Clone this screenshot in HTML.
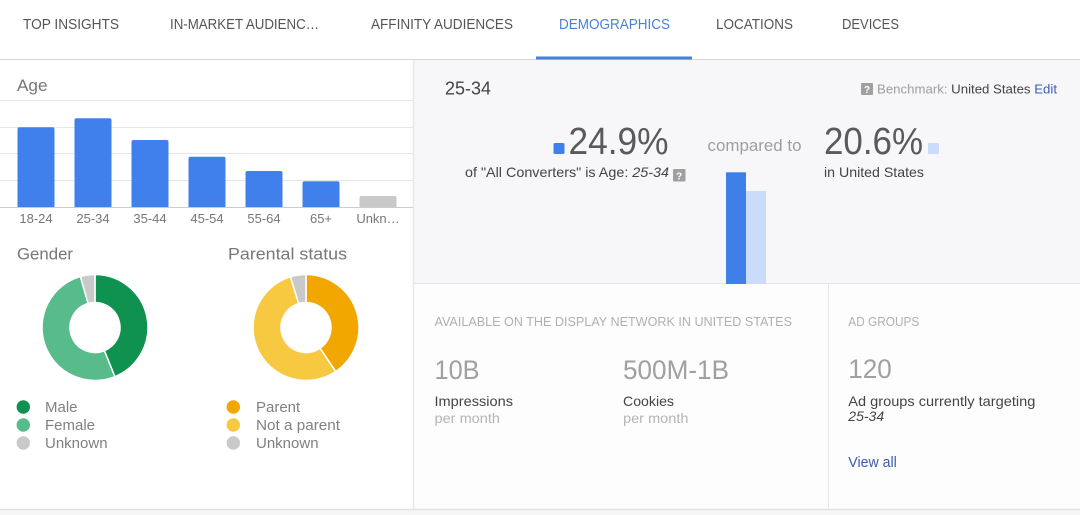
<!DOCTYPE html>
<html>
<head>
<meta charset="utf-8">
<style>
  html,body{margin:0;padding:0;background:#ffffff;}
  body{width:1080px;height:515px;overflow:hidden;}
  svg{display:block;}
  text{font-family:"Liberation Sans", Arial, sans-serif;}
</style>
</head>
<body>
<svg width="1080" height="515" viewBox="0 0 1080 515" xmlns="http://www.w3.org/2000/svg">
  <!-- backgrounds -->
  <rect x="0" y="0" width="1080" height="515" fill="#ffffff"/>
  <rect x="414" y="60" width="666" height="223" fill="#f7f7f9"/>
  <rect x="414" y="284" width="666" height="225" fill="#fdfdfd"/>
  <rect x="0" y="510" width="1080" height="5" fill="#f6f6f6"/>
  <line x1="0" y1="509.5" x2="1080" y2="509.5" stroke="#e2e2e2" stroke-width="1.5"/>
  <line x1="413.5" y1="60" x2="413.5" y2="509" stroke="#e8e8ea" stroke-width="1.5"/>
  <line x1="414" y1="283.5" x2="1080" y2="283.5" stroke="#e6e6ea" stroke-width="1"/>
  <line x1="828.5" y1="284" x2="828.5" y2="509" stroke="#e8e8ea" stroke-width="1"/>

  <!-- nav -->
  <line x1="0" y1="59.5" x2="1080" y2="59.5" stroke="#d8d8d8" stroke-width="1"/>
  <rect x="536" y="56.5" width="156" height="3" fill="#4a7fd7"/>
  <g font-size="14.5" fill="#555555">
    <text x="23" y="29" textLength="96" lengthAdjust="spacingAndGlyphs">TOP INSIGHTS</text>
    <text x="170" y="29" textLength="149" lengthAdjust="spacingAndGlyphs">IN-MARKET AUDIENC…</text>
    <text x="371" y="29" textLength="142" lengthAdjust="spacingAndGlyphs">AFFINITY AUDIENCES</text>
    <text x="559" y="29" textLength="111" lengthAdjust="spacingAndGlyphs" fill="#4a80d9">DEMOGRAPHICS</text>
    <text x="716" y="29" textLength="77" lengthAdjust="spacingAndGlyphs">LOCATIONS</text>
    <text x="842" y="29" textLength="57" lengthAdjust="spacingAndGlyphs">DEVICES</text>
  </g>

  <!-- Age chart -->
  <text x="17" y="91" font-size="17" fill="#777777" textLength="30.5" lengthAdjust="spacingAndGlyphs">Age</text>
  <g stroke="#e6e6e6" stroke-width="1">
    <line x1="0" y1="100.5" x2="413" y2="100.5"/>
    <line x1="0" y1="127.5" x2="413" y2="127.5"/>
    <line x1="0" y1="153.5" x2="413" y2="153.5"/>
    <line x1="0" y1="180.5" x2="413" y2="180.5"/>
  </g>
  <g fill="#4080ec">
    <path d="M17.5 207 V129.3 Q17.5 127.3 19.5 127.3 H52.5 Q54.5 127.3 54.5 129.3 V207 Z"/>
    <path d="M74.5 207 V120.3 Q74.5 118.3 76.5 118.3 H109.5 Q111.5 118.3 111.5 120.3 V207 Z"/>
    <path d="M131.5 207 V142 Q131.5 140 133.5 140 H166.5 Q168.5 140 168.5 142 V207 Z"/>
    <path d="M188.5 207 V158.7 Q188.5 156.7 190.5 156.7 H223.5 Q225.5 156.7 225.5 158.7 V207 Z"/>
    <path d="M245.5 207 V173 Q245.5 171 247.5 171 H280.5 Q282.5 171 282.5 173 V207 Z"/>
    <path d="M302.5 207 V183.3 Q302.5 181.3 304.5 181.3 H337.5 Q339.5 181.3 339.5 183.3 V207 Z"/>
  </g>
  <path d="M359.5 207 V198 Q359.5 196 361.5 196 H394.5 Q396.5 196 396.5 198 V207 Z" fill="#c9c9c9"/>
  <line x1="0" y1="207.5" x2="413" y2="207.5" stroke="#cccccc" stroke-width="1"/>
  <g font-size="13" fill="#777777" text-anchor="middle">
    <text x="36" y="223">18-24</text>
    <text x="93" y="223">25-34</text>
    <text x="150" y="223">35-44</text>
    <text x="207" y="223">45-54</text>
    <text x="264" y="223">55-64</text>
    <text x="321" y="223">65+</text>
    <text x="378" y="223">Unkn…</text>
  </g>

  <!-- Gender -->
  <text x="17" y="259.3" font-size="17" fill="#777777" textLength="56" lengthAdjust="spacingAndGlyphs">Gender</text>
  <g stroke="#ffffff" stroke-width="1.5" stroke-linejoin="round">
    <path d="M95 274.5 A53 53 0 0 1 114.85 376.64 L104.37 350.68 A25 25 0 0 0 95 302.5 Z" fill="#0f9150"/>
    <path d="M114.85 376.64 A53 53 0 1 1 80.39 276.55 L88.11 303.47 A25 25 0 1 0 104.37 350.68 Z" fill="#57bb8a"/>
    <path d="M80.39 276.55 A53 53 0 0 1 95 274.5 L95 302.5 A25 25 0 0 0 88.11 303.47 Z" fill="#c9c9c9"/>
  </g>
  <circle cx="23.3" cy="407" r="6.7" fill="#0f9150"/>
  <circle cx="23.3" cy="425" r="6.7" fill="#57bb8a"/>
  <circle cx="23.3" cy="443" r="6.7" fill="#c9c9c9"/>
  <g font-size="15" fill="#808080">
    <text x="45" y="412">Male</text>
    <text x="45" y="430">Female</text>
    <text x="45" y="448">Unknown</text>
  </g>

  <!-- Parental status -->
  <text x="228" y="259.3" font-size="17" fill="#777777" textLength="119" lengthAdjust="spacingAndGlyphs">Parental status</text>
  <g stroke="#ffffff" stroke-width="1.5" stroke-linejoin="round">
    <path d="M306 274.5 A53 53 0 0 1 335.64 371.44 L319.98 348.23 A25 25 0 0 0 306 302.5 Z" fill="#f2a600"/>
    <path d="M335.64 371.44 A53 53 0 1 1 290.50 276.82 L298.69 303.59 A25 25 0 1 0 319.98 348.23 Z" fill="#f6c940"/>
    <path d="M290.50 276.82 A53 53 0 0 1 306 274.5 L306 302.5 A25 25 0 0 0 298.69 303.59 Z" fill="#c9c9c9"/>
  </g>
  <circle cx="233.3" cy="407" r="6.7" fill="#f2a600"/>
  <circle cx="233.3" cy="425" r="6.7" fill="#f6c940"/>
  <circle cx="233.3" cy="443" r="6.7" fill="#c9c9c9"/>
  <g font-size="15" fill="#808080">
    <text x="256" y="412">Parent</text>
    <text x="256" y="430" textLength="84" lengthAdjust="spacingAndGlyphs">Not a parent</text>
    <text x="256" y="448">Unknown</text>
  </g>

  <!-- right top panel -->
  <text x="445" y="94.5" font-size="18" fill="#444444" textLength="46" lengthAdjust="spacingAndGlyphs">25-34</text>
  <rect x="861" y="83" width="12" height="12" rx="1" fill="#a0a0a0"/>
  <text x="867" y="93" font-size="10" font-weight="bold" fill="#ffffff" text-anchor="middle">?</text>
  <text x="877" y="93.5" font-size="13" fill="#444444" textLength="180" lengthAdjust="spacingAndGlyphs"><tspan fill="#9e9e9e">Benchmark:</tspan> United States <tspan fill="#3b5bb5">Edit</tspan></text>

  <rect x="553.5" y="143" width="11" height="11" rx="1.5" fill="#4080ec"/>
  <text x="568.5" y="154" font-size="38" fill="#5a5a5a" textLength="100" lengthAdjust="spacingAndGlyphs">24.9%</text>
  <text x="707.5" y="151" font-size="17" fill="#9e9e9e" textLength="94" lengthAdjust="spacingAndGlyphs">compared to</text>
  <text x="824" y="154" font-size="38" fill="#5a5a5a" textLength="99" lengthAdjust="spacingAndGlyphs">20.6%</text>
  <rect x="928" y="143" width="11" height="11" rx="1" fill="#c9dcfb"/>

  <text x="465" y="177" font-size="14" fill="#444444" textLength="204" lengthAdjust="spacingAndGlyphs">of "All Converters" is Age: <tspan font-style="italic">25-34</tspan></text>
  <rect x="673" y="169" width="12.5" height="12.5" rx="1" fill="#a0a0a0"/>
  <text x="679.2" y="179.5" font-size="10" font-weight="bold" fill="#ffffff" text-anchor="middle">?</text>
  <text x="824" y="177" font-size="14" fill="#444444" textLength="100" lengthAdjust="spacingAndGlyphs">in United States</text>

  <rect x="726" y="172.3" width="20" height="111.7" fill="#3f7fea"/>
  <rect x="746" y="191" width="20" height="93" fill="#c9dcfb"/>

  <!-- right bottom: available -->
  <text x="434.5" y="326" font-size="13" fill="#b0b0b0" textLength="357.5" lengthAdjust="spacingAndGlyphs">AVAILABLE ON THE DISPLAY NETWORK IN UNITED STATES</text>
  <text x="434.5" y="379" font-size="27" fill="#a0a0a0" textLength="45" lengthAdjust="spacingAndGlyphs">10B</text>
  <text x="623" y="379" font-size="27" fill="#a0a0a0" textLength="106" lengthAdjust="spacingAndGlyphs">500M-1B</text>
  <text x="434.5" y="406" font-size="14" fill="#444444" textLength="78.5" lengthAdjust="spacingAndGlyphs">Impressions</text>
  <text x="434.5" y="423" font-size="14" fill="#b5b5b5" textLength="65.5" lengthAdjust="spacingAndGlyphs">per month</text>
  <text x="623" y="406" font-size="14" fill="#444444" textLength="51" lengthAdjust="spacingAndGlyphs">Cookies</text>
  <text x="623" y="423" font-size="14" fill="#b5b5b5" textLength="65.5" lengthAdjust="spacingAndGlyphs">per month</text>

  <!-- right bottom: ad groups -->
  <text x="848.3" y="326" font-size="13" fill="#b0b0b0" textLength="71" lengthAdjust="spacingAndGlyphs">AD GROUPS</text>
  <text x="848.3" y="378" font-size="27" fill="#a0a0a0" textLength="43.5" lengthAdjust="spacingAndGlyphs">120</text>
  <text x="848.3" y="406" font-size="14" fill="#444444" textLength="187" lengthAdjust="spacingAndGlyphs">Ad groups currently targeting</text>
  <text x="848.3" y="421" font-size="14" fill="#444444" font-style="italic">25-34</text>
  <text x="848.3" y="467" font-size="14.5" fill="#3b5ba9" textLength="48.5" lengthAdjust="spacingAndGlyphs">View all</text>
</svg>
</body>
</html>
